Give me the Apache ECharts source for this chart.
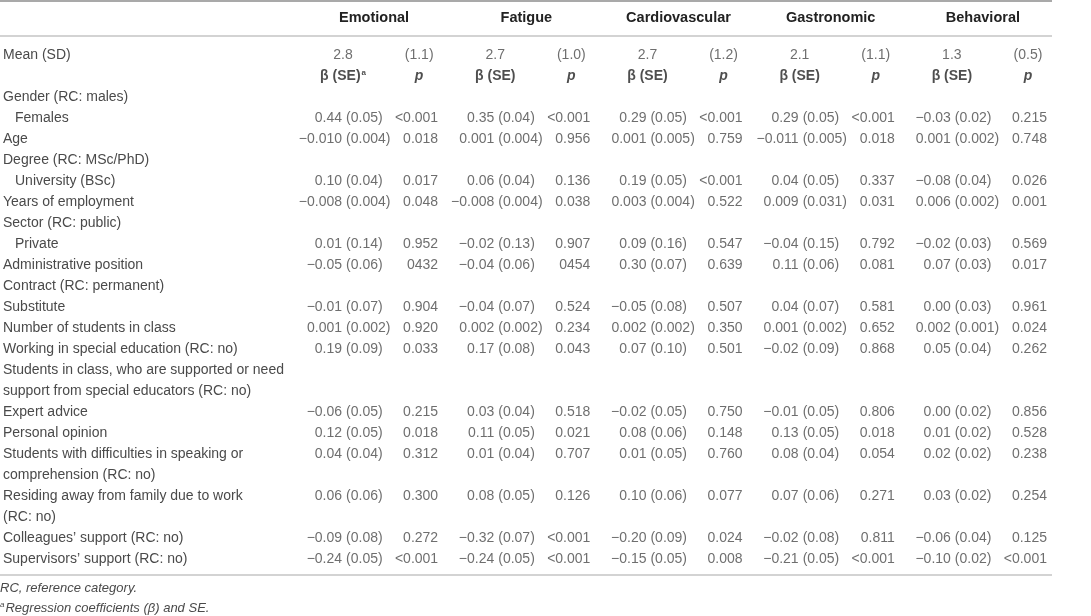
<!DOCTYPE html>
<html>
<head>
<meta charset="utf-8">
<script src="https://cdn.jsdelivr.net/npm/echarts@6/dist/echarts.min.js"></script>
<style>
  html, body { margin: 0; padding: 0; background: #fff; }
  #table { width: 1091px; height: 616px; }
</style>
</head>
<body>
<div id="table"></div>
<script>
const FONT = "'Liberation Sans', Arial, sans-serif";
const TEXT = "#4a4a4a";

// table rows (wrapped labels take two rows)
const rowLabels = [
  "Mean (SD)", "",
  "Gender (RC: males)", "Females", "Age",
  "Degree (RC: MSc/PhD)", "University (BSc)",
  "Years of employment",
  "Sector (RC: public)", "Private",
  "Administrative position",
  "Contract (RC: permanent)", "Substitute",
  "Number of students in class",
  "Working in special education (RC: no)",
  "Students in class, who are supported or need",
  "support from special educators (RC: no)",
  "Expert advice", "Personal opinion",
  "Students with difficulties in speaking or", "comprehension (RC: no)",
  "Residing away from family due to work", "(RC: no)",
  "Colleagues’ support (RC: no)", "Supervisors’ support (RC: no)"
];
const indented = ["Females", "University (BSc)", "Private"];

const outcomes = ["Emotional", "Fatigue", "Cardiovascular", "Gastronomic", "Behavioral"];
const meanScores = [2.8, 2.7, 2.7, 2.1, 1.3];
const sdScores = [1.1, 1.0, 1.2, 1.1, 0.5];

const predictors = [
  "Females", "Age", "University (BSc)", "Years of employment", "Private",
  "Administrative position", "Substitute", "Number of students in class",
  "Working in special education (RC: no)", "Expert advice", "Personal opinion",
  "Students with difficulties in speaking or", "Residing away from family due to work",
  "Colleagues’ support (RC: no)", "Supervisors’ support (RC: no)"
];

const betaEmotional = ["0.44 (0.05)", "−0.010 (0.004)", "0.10 (0.04)", "−0.008 (0.004)", "0.01 (0.14)", "−0.05 (0.06)", "−0.01 (0.07)", "0.001 (0.002)", "0.19 (0.09)", "−0.06 (0.05)", "0.12 (0.05)", "0.04 (0.04)", "0.06 (0.06)", "−0.09 (0.08)", "−0.24 (0.05)"];
const pEmotional = ["<0.001", "0.018", "0.017", "0.048", "0.952", "0432", "0.904", "0.920", "0.033", "0.215", "0.018", "0.312", "0.300", "0.272", "<0.001"];

const betaFatigue = ["0.35 (0.04)", "0.001 (0.004)", "0.06 (0.04)", "−0.008 (0.004)", "−0.02 (0.13)", "−0.04 (0.06)", "−0.04 (0.07)", "0.002 (0.002)", "0.17 (0.08)", "0.03 (0.04)", "0.11 (0.05)", "0.01 (0.04)", "0.08 (0.05)", "−0.32 (0.07)", "−0.24 (0.05)"];
const pFatigue = ["<0.001", "0.956", "0.136", "0.038", "0.907", "0454", "0.524", "0.234", "0.043", "0.518", "0.021", "0.707", "0.126", "<0.001", "<0.001"];

const betaCardio = ["0.29 (0.05)", "0.001 (0.005)", "0.19 (0.05)", "0.003 (0.004)", "0.09 (0.16)", "0.30 (0.07)", "−0.05 (0.08)", "0.002 (0.002)", "0.07 (0.10)", "−0.02 (0.05)", "0.08 (0.06)", "0.01 (0.05)", "0.10 (0.06)", "−0.20 (0.09)", "−0.15 (0.05)"];
const pCardio = ["<0.001", "0.759", "<0.001", "0.522", "0.547", "0.639", "0.507", "0.350", "0.501", "0.750", "0.148", "0.760", "0.077", "0.024", "0.008"];

const betaGastro = ["0.29 (0.05)", "−0.011 (0.005)", "0.04 (0.05)", "0.009 (0.031)", "−0.04 (0.15)", "0.11 (0.06)", "0.04 (0.07)", "0.001 (0.002)", "−0.02 (0.09)", "−0.01 (0.05)", "0.13 (0.05)", "0.08 (0.04)", "0.07 (0.06)", "−0.02 (0.08)", "−0.21 (0.05)"];
const pGastro = ["<0.001", "0.018", "0.337", "0.031", "0.792", "0.081", "0.581", "0.652", "0.868", "0.806", "0.018", "0.054", "0.271", "0.811", "<0.001"];

const betaBehav = ["−0.03 (0.02)", "0.001 (0.002)", "−0.08 (0.04)", "0.006 (0.002)", "−0.02 (0.03)", "0.07 (0.03)", "0.00 (0.03)", "0.002 (0.001)", "0.05 (0.04)", "0.00 (0.02)", "0.01 (0.02)", "0.02 (0.02)", "0.03 (0.02)", "−0.06 (0.04)", "−0.10 (0.02)"];
const pBehav = ["0.215", "0.748", "0.026", "0.001", "0.569", "0.017", "0.961", "0.024", "0.262", "0.856", "0.528", "0.238", "0.254", "0.125", "<0.001"];

const betas = [betaEmotional, betaFatigue, betaCardio, betaGastro, betaBehav];
const pvals = [pEmotional, pFatigue, pCardio, pGastro, pBehav];

const columns = [];
outcomes.forEach(o => { columns.push(o + " β"); columns.push(o + " p"); });

const headRow = rowLabels.indexOf("");
const meanRow = rowLabels.indexOf("Mean (SD)");

const coefData = [], seData = [], pData = [], centerData = [], subHeadData = [];
outcomes.forEach((o, i) => {
  centerData.push([2 * i, meanRow, meanScores[i].toFixed(1)]);
  centerData.push([2 * i + 1, meanRow, "(" + sdScores[i].toFixed(1) + ")"]);
  subHeadData.push([2 * i, headRow, i === 0 ? "{b|β (SE)}{sup|a}" : "{b|β (SE)}"]);
  subHeadData.push([2 * i + 1, headRow, "{p|p}"]);
  predictors.forEach((name, k) => {
    const r = rowLabels.indexOf(name);
    const parts = betas[i][k].split(" (");
    coefData.push([2 * i, r, parts[0]]);
    seData.push([2 * i, r, "(" + parts[1]]);
    pData.push([2 * i + 1, r, pvals[i][k]]);
  });
});

const textLabel = (align, offset) => ({
  show: true,
  position: "inside",
  align: align,
  offset: offset,
  fontFamily: FONT,
  fontSize: 14,
  color: TEXT,
  formatter: p => p.value[2]
});

const cellSeries = (name, data, label) => ({
  name: name,
  type: "scatter",
  symbolSize: 0,
  silent: true,
  data: data,
  label: label
});

const chart = echarts.init(document.getElementById("table"));
chart.setOption({
  animation: false,
  backgroundColor: "#fff",
  grid: { left: 302, right: 25, top: 44.5, bottom: 46.5 },
  xAxis: [
    {
      type: "category",
      data: columns,
      position: "bottom",
      axisLine: { show: false },
      axisTick: { show: false },
      axisLabel: { show: false },
      splitLine: { show: false }
    },
    {
      type: "category",
      data: outcomes,
      position: "top",
      axisLine: { show: false },
      axisTick: { show: false },
      splitLine: { show: false },
      axisLabel: {
        margin: 19,
        fontFamily: FONT,
        fontSize: 14.5,
        fontWeight: "bold",
        color: "#222",
        padding: [0, 14, 0, 0]
      }
    }
  ],
  yAxis: {
    type: "category",
    data: rowLabels,
    inverse: true,
    axisLine: { show: false },
    axisTick: { show: false },
    splitLine: { show: false },
    axisLabel: {
      interval: 0,
      align: "left",
      margin: 302,
      fontFamily: FONT,
      fontSize: 14,
      color: TEXT,
      formatter: v => indented.includes(v) ? "{ind|" + v + "}" : v,
      rich: {
        ind: { fontFamily: FONT, fontSize: 14, color: TEXT, padding: [0, 0, 0, 12] }
      }
    }
  },
  graphic: [
    { type: "line", shape: { x1: 0, y1: 1, x2: 1052, y2: 1 }, style: { stroke: "#a9a9a9", lineWidth: 2 } },
    { type: "line", shape: { x1: 0, y1: 36, x2: 1052, y2: 36 }, style: { stroke: "#c4c4c4", lineWidth: 1.5 } },
    { type: "line", shape: { x1: 0, y1: 575, x2: 1052, y2: 575 }, style: { stroke: "#c4c4c4", lineWidth: 1.5 } },
    {
      type: "text", left: 0, top: 582,
      style: { text: "RC, reference category.", font: "italic 13px " + FONT, fill: TEXT }
    },
    {
      type: "text", left: 0, top: 601,
      style: {
        text: "{sup|a}{t|Regression coefficients (β) and SE.}",
        rich: {
          sup: { fontFamily: FONT, fontStyle: "italic", fontSize: 8, fill: TEXT, verticalAlign: "top", padding: [0, 1, 6, 0] },
          t: { fontFamily: FONT, fontStyle: "italic", fontSize: 13, fill: TEXT }
        }
      }
    }
  ],
  series: [
    cellSeries("coef", coefData, textLabel("right", [-1, 0])),
    cellSeries("se", seData, textLabel("left", [3, 0])),
    cellSeries("p", pData, textLabel("right", [19, 0])),
    cellSeries("mean", centerData, textLabel("center", [0, 0])),
    cellSeries("head", subHeadData, Object.assign(textLabel("center", [0, 0]), {
      rich: {
        b: { fontFamily: FONT, fontSize: 14, fontWeight: "bold", color: "#222" },
        sup: { fontFamily: FONT, fontSize: 8, fontWeight: "bold", color: "#222", verticalAlign: "top", padding: [0, 0, 7, 1] },
        p: { fontFamily: FONT, fontSize: 14, fontWeight: "bold", fontStyle: "italic", color: "#222" }
      }
    }))
  ]
});
</script>
</body>
</html>
